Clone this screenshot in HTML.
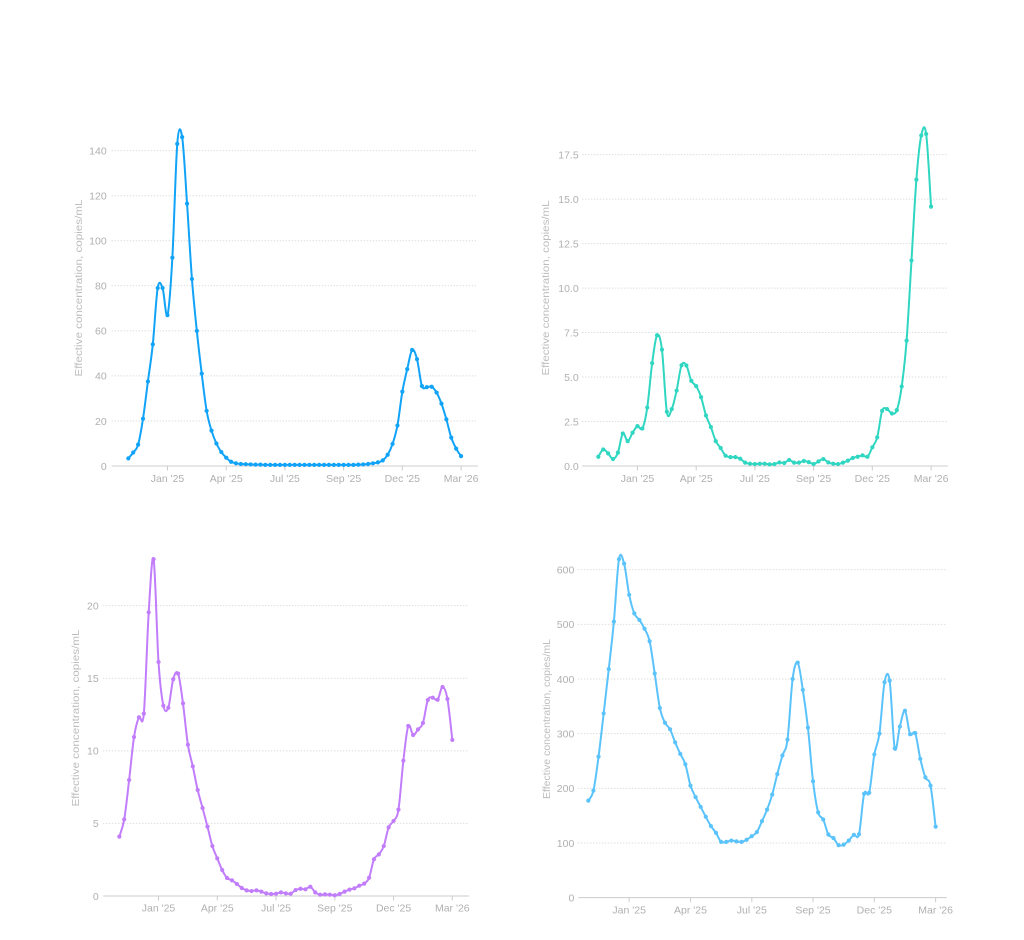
<!DOCTYPE html>
<html>
<head>
<meta charset="utf-8">
<style>
  html, body { margin: 0; padding: 0; background: #ffffff; }
  svg { display: block; }
  .lbl { font-family: "Liberation Sans", sans-serif; font-size: 10.5px; fill: #b0b0b0; }
  .ttl { font-family: "Liberation Sans", sans-serif; font-size: 10px; fill: #bdbdbd; }
  .grid { stroke: #cfcfcf; stroke-width: 1; stroke-dasharray: 1 2; fill: none; }
  .axis { stroke: #cccccc; stroke-width: 1; fill: none; }
  .s { fill: none; stroke-width: 2; stroke-linejoin: round; stroke-linecap: round; }
</style>
</head>
<body>
<svg id="chart" width="1024" height="940" viewBox="0 0 1024 940" xmlns="http://www.w3.org/2000/svg">
  <rect x="0" y="0" width="1024" height="940" fill="#ffffff"/>

  <!-- ============ CHART 1 (top-left) ============ -->
  <g>
    <line class="grid" x1="111.7" y1="420.95" x2="477.7" y2="420.95"/>
    <line class="grid" x1="111.7" y1="375.9" x2="477.7" y2="375.9"/>
    <line class="grid" x1="111.7" y1="330.85" x2="477.7" y2="330.85"/>
    <line class="grid" x1="111.7" y1="285.8" x2="477.7" y2="285.8"/>
    <line class="grid" x1="111.7" y1="240.75" x2="477.7" y2="240.75"/>
    <line class="grid" x1="111.7" y1="195.7" x2="477.7" y2="195.7"/>
    <line class="grid" x1="111.7" y1="150.65" x2="477.7" y2="150.65"/>
    <line class="axis" x1="111.7" y1="466" x2="477.7" y2="466"/>
    <line class="axis" x1="167.5" y1="466" x2="167.5" y2="470.5"/>
    <line class="axis" x1="226.2" y1="466" x2="226.2" y2="470.5"/>
    <line class="axis" x1="284.9" y1="466" x2="284.9" y2="470.5"/>
    <line class="axis" x1="343.6" y1="466" x2="343.6" y2="470.5"/>
    <line class="axis" x1="402.3" y1="466" x2="402.3" y2="470.5"/>
    <line class="axis" x1="461.1" y1="466" x2="461.1" y2="470.5"/>
    <text class="lbl" text-anchor="end" x="106.7" y="469.8">0</text>
    <text class="lbl" text-anchor="end" x="106.7" y="424.75">20</text>
    <text class="lbl" text-anchor="end" x="106.7" y="379.7">40</text>
    <text class="lbl" text-anchor="end" x="106.7" y="334.65">60</text>
    <text class="lbl" text-anchor="end" x="106.7" y="289.6">80</text>
    <text class="lbl" text-anchor="end" x="106.7" y="244.55">100</text>
    <text class="lbl" text-anchor="end" x="106.7" y="199.5">120</text>
    <text class="lbl" text-anchor="end" x="106.7" y="154.45">140</text>
    <text class="lbl" text-anchor="middle" x="167.5" y="481.8">Jan '25</text>
    <text class="lbl" text-anchor="middle" x="226.2" y="481.8">Apr '25</text>
    <text class="lbl" text-anchor="middle" x="284.9" y="481.8">Jul '25</text>
    <text class="lbl" text-anchor="middle" x="343.6" y="481.8">Sep '25</text>
    <text class="lbl" text-anchor="middle" x="402.3" y="481.8">Dec '25</text>
    <text class="lbl" text-anchor="middle" x="461.1" y="481.8">Mar '26</text>
    <text class="ttl" text-anchor="middle" transform="translate(81.8,288) rotate(-90)" textLength="177" lengthAdjust="spacingAndGlyphs">Effective concentration, copies/mL</text>
    <polyline class="s" stroke="#11a3f7" vector-effect="non-scaling-stroke" transform="matrix(4.893 0 0 -2.2524 128.33 466)" points="0,3.4 1,6 2,9.5 3,21 4,37.5 5,54 6,79 7,79 8,67 9,92.5 10,143 11,146 12,116.5 13,83 14,60 15,41 16,24.5 17,15.7 18,10 19,6.2 20,3.7 21,1.9 22,1.2 23,0.9 24,0.8 25,0.7 26,0.6 27,0.6 28,0.5 29,0.5 30,0.5 31,0.5 32,0.5 33,0.5 34,0.5 35,0.5 36,0.5 37,0.5 38,0.5 39,0.5 40,0.5 41,0.5 42,0.5 43,0.5 44,0.5 45,0.5 46,0.5 47,0.6 48,0.7 49,0.9 50,1.2 51,1.6 52,2.5 53,5 54,9.8 55,18 56,33 57,43 58,51.5 59,47.4 60,35.5 61,35 62,35.2 63,32.6 64,27.7 65,20.7 66,12.6 67,7.7 68,4.4"/>
  </g>

  <!-- ============ CHART 2 (top-right) ============ -->
  <g>
    <line class="grid" x1="582.3" y1="421.52" x2="947.7" y2="421.52"/>
    <line class="grid" x1="582.3" y1="377.04" x2="947.7" y2="377.04"/>
    <line class="grid" x1="582.3" y1="332.56" x2="947.7" y2="332.56"/>
    <line class="grid" x1="582.3" y1="288.08" x2="947.7" y2="288.08"/>
    <line class="grid" x1="582.3" y1="243.6" x2="947.7" y2="243.6"/>
    <line class="grid" x1="582.3" y1="199.12" x2="947.7" y2="199.12"/>
    <line class="grid" x1="582.3" y1="154.64" x2="947.7" y2="154.64"/>
    <line class="axis" x1="582.3" y1="466" x2="947.7" y2="466"/>
    <line class="axis" x1="637.5" y1="466" x2="637.5" y2="470.5"/>
    <line class="axis" x1="696.2" y1="466" x2="696.2" y2="470.5"/>
    <line class="axis" x1="754.9" y1="466" x2="754.9" y2="470.5"/>
    <line class="axis" x1="813.6" y1="466" x2="813.6" y2="470.5"/>
    <line class="axis" x1="872.3" y1="466" x2="872.3" y2="470.5"/>
    <line class="axis" x1="931.1" y1="466" x2="931.1" y2="470.5"/>
    <text class="lbl" text-anchor="end" x="578.7" y="469.8">0.0</text>
    <text class="lbl" text-anchor="end" x="578.7" y="425.32">2.5</text>
    <text class="lbl" text-anchor="end" x="578.7" y="380.84">5.0</text>
    <text class="lbl" text-anchor="end" x="578.7" y="336.36">7.5</text>
    <text class="lbl" text-anchor="end" x="578.7" y="291.88">10.0</text>
    <text class="lbl" text-anchor="end" x="578.7" y="247.4">12.5</text>
    <text class="lbl" text-anchor="end" x="578.7" y="202.92">15.0</text>
    <text class="lbl" text-anchor="end" x="578.7" y="158.44">17.5</text>
    <text class="lbl" text-anchor="middle" x="637.5" y="481.8">Jan '25</text>
    <text class="lbl" text-anchor="middle" x="696.2" y="481.8">Apr '25</text>
    <text class="lbl" text-anchor="middle" x="754.9" y="481.8">Jul '25</text>
    <text class="lbl" text-anchor="middle" x="813.6" y="481.8">Sep '25</text>
    <text class="lbl" text-anchor="middle" x="872.3" y="481.8">Dec '25</text>
    <text class="lbl" text-anchor="middle" x="931.1" y="481.8">Mar '26</text>
    <text class="ttl" text-anchor="middle" transform="translate(549.2,288) rotate(-90)" textLength="175" lengthAdjust="spacingAndGlyphs">Effective concentration, copies/mL</text>
    <polyline class="s" stroke="#2fd6c1" vector-effect="non-scaling-stroke" transform="matrix(4.893 0 0 -17.79 598.33 466)" points="0,0.52 1,0.93 2,0.71 3,0.39 4,0.75 5,1.83 6,1.4 7,1.87 8,2.24 9,2.11 10,3.29 11,5.78 12,7.35 13,6.54 14,3.05 15,3.2 16,4.24 17,5.66 18,5.65 19,4.79 20,4.49 21,3.87 22,2.84 23,2.19 24,1.4 25,1.01 26,0.58 27,0.5 28,0.5 29,0.41 30,0.19 31,0.13 32,0.11 33,0.13 34,0.13 35,0.09 36,0.11 37,0.2 38,0.17 39,0.34 40,0.19 41,0.19 42,0.28 43,0.22 44,0.11 45,0.26 46,0.39 47,0.2 48,0.13 49,0.11 50,0.19 51,0.3 52,0.45 53,0.52 54,0.6 55,0.52 56,1.05 57,1.61 58,3.1 59,3.2 60,2.95 61,3.14 62,4.47 63,7.05 64,11.55 65,16.1 66,18.58 67,18.66 68,14.58"/>
  </g>

  <!-- ============ CHART 3 (bottom-left) ============ -->
  <g>
    <line class="grid" x1="103.3" y1="823.42" x2="469" y2="823.42"/>
    <line class="grid" x1="103.3" y1="750.84" x2="469" y2="750.84"/>
    <line class="grid" x1="103.3" y1="678.26" x2="469" y2="678.26"/>
    <line class="grid" x1="103.3" y1="605.68" x2="469" y2="605.68"/>
    <line class="axis" x1="103.3" y1="896" x2="469" y2="896"/>
    <line class="axis" x1="158.5" y1="896" x2="158.5" y2="900.5"/>
    <line class="axis" x1="217.3" y1="896" x2="217.3" y2="900.5"/>
    <line class="axis" x1="276" y1="896" x2="276" y2="900.5"/>
    <line class="axis" x1="334.8" y1="896" x2="334.8" y2="900.5"/>
    <line class="axis" x1="393.6" y1="896" x2="393.6" y2="900.5"/>
    <line class="axis" x1="452.3" y1="896" x2="452.3" y2="900.5"/>
    <text class="lbl" text-anchor="end" x="98.7" y="899.8">0</text>
    <text class="lbl" text-anchor="end" x="98.7" y="827.22">5</text>
    <text class="lbl" text-anchor="end" x="98.7" y="754.64">10</text>
    <text class="lbl" text-anchor="end" x="98.7" y="682.06">15</text>
    <text class="lbl" text-anchor="end" x="98.7" y="609.48">20</text>
    <text class="lbl" text-anchor="middle" x="158.5" y="911.6">Jan '25</text>
    <text class="lbl" text-anchor="middle" x="217.3" y="911.6">Apr '25</text>
    <text class="lbl" text-anchor="middle" x="276" y="911.6">Jul '25</text>
    <text class="lbl" text-anchor="middle" x="334.8" y="911.6">Sep '25</text>
    <text class="lbl" text-anchor="middle" x="393.6" y="911.6">Dec '25</text>
    <text class="lbl" text-anchor="middle" x="452.3" y="911.6">Mar '26</text>
    <text class="ttl" text-anchor="middle" transform="translate(79,718) rotate(-90)" textLength="177" lengthAdjust="spacingAndGlyphs">Effective concentration, copies/mL</text>
    <polyline class="s" stroke="#c17dfb" vector-effect="non-scaling-stroke" transform="matrix(4.897 0 0 -14.517 119.33 896)" points="0,4.09 1,5.28 2,7.99 3,10.95 4,12.31 5,12.56 6,19.54 7,23.2 8,16.12 9,13.11 10,12.97 11,14.93 12,15.32 13,13.27 14,10.42 15,8.93 16,7.3 17,6.06 18,4.78 19,3.44 20,2.59 21,1.79 22,1.24 23,1.08 24,0.83 25,0.55 26,0.39 27,0.34 28,0.39 29,0.3 30,0.18 31,0.14 32,0.16 33,0.25 34,0.18 35,0.16 36,0.41 37,0.5 38,0.46 39,0.64 40,0.25 41,0.09 42,0.11 43,0.09 44,0.05 45,0.14 46,0.3 47,0.44 48,0.53 49,0.71 50,0.85 51,1.26 52,2.53 53,2.87 54,3.44 55,4.73 56,5.17 57,5.95 58,9.32 59,11.71 60,11.09 61,11.48 62,11.92 63,13.5 64,13.66 65,13.52 66,14.4 67,13.57 68,10.75"/>
  </g>

  <!-- ============ CHART 4 (bottom-right) ============ -->
  <g>
    <line class="grid" x1="578.3" y1="843" x2="946.7" y2="843"/>
    <line class="grid" x1="578.3" y1="788.33" x2="946.7" y2="788.33"/>
    <line class="grid" x1="578.3" y1="733.66" x2="946.7" y2="733.66"/>
    <line class="grid" x1="578.3" y1="679" x2="946.7" y2="679"/>
    <line class="grid" x1="578.3" y1="624.33" x2="946.7" y2="624.33"/>
    <line class="grid" x1="578.3" y1="569.67" x2="946.7" y2="569.67"/>
    <line class="axis" x1="578.3" y1="897.67" x2="946.7" y2="897.67"/>
    <line class="axis" x1="629.2" y1="897.67" x2="629.2" y2="902.2"/>
    <line class="axis" x1="690.5" y1="897.67" x2="690.5" y2="902.2"/>
    <line class="axis" x1="751.8" y1="897.67" x2="751.8" y2="902.2"/>
    <line class="axis" x1="813" y1="897.67" x2="813" y2="902.2"/>
    <line class="axis" x1="874.3" y1="897.67" x2="874.3" y2="902.2"/>
    <line class="axis" x1="935.6" y1="897.67" x2="935.6" y2="902.2"/>
    <text class="lbl" text-anchor="end" x="574.3" y="901.47">0</text>
    <text class="lbl" text-anchor="end" x="574.3" y="846.8">100</text>
    <text class="lbl" text-anchor="end" x="574.3" y="792.13">200</text>
    <text class="lbl" text-anchor="end" x="574.3" y="737.46">300</text>
    <text class="lbl" text-anchor="end" x="574.3" y="682.8">400</text>
    <text class="lbl" text-anchor="end" x="574.3" y="628.13">500</text>
    <text class="lbl" text-anchor="end" x="574.3" y="573.47">600</text>
    <text class="lbl" text-anchor="middle" x="629.2" y="913.3">Jan '25</text>
    <text class="lbl" text-anchor="middle" x="690.5" y="913.3">Apr '25</text>
    <text class="lbl" text-anchor="middle" x="751.8" y="913.3">Jul '25</text>
    <text class="lbl" text-anchor="middle" x="813" y="913.3">Sep '25</text>
    <text class="lbl" text-anchor="middle" x="874.3" y="913.3">Dec '25</text>
    <text class="lbl" text-anchor="middle" x="935.6" y="913.3">Mar '26</text>
    <text class="ttl" text-anchor="middle" transform="translate(550,719) rotate(-90)" textLength="160" lengthAdjust="spacingAndGlyphs">Effective concentration, copies/mL</text>
    <polyline class="s" stroke="#5bc3fb" vector-effect="non-scaling-stroke" transform="matrix(5.107 0 0 -0.5467 588.33 897.67)" points="0,177.5 1,196 2,258 3,337 4,418 5,505 6,619 7,611 8,554 9,520 10,508 11,492 12,469 13,410 14,347 15,320 16,308 17,284 18,263 19,244 20,205 21,184 22,166 23,148 24,131 25,118.5 26,102 27,102 28,104.5 29,103 30,102 31,106 32,112.5 33,120 34,140 35,161 36,188.5 37,226 38,260 39,289 40,400 41,430 42,380 43,311 44,213 45,156 46,143 47,115.5 48,109 49,96 50,97 51,104.5 52,115 53,116 54,190 55,192 56,262 57,300 58,394 59,397 60,273 61,313 62,342 63,299 64,301 65,254 66,220 67,205 68,130"/>
  </g>
</svg>
<script>
(function () {
  var NS = "http://www.w3.org/2000/svg";
  var svg = document.getElementById("chart");
  var polys = Array.prototype.slice.call(svg.querySelectorAll("polyline.s"));
  function curve(p) {
    var d = "M" + p[0][0].toFixed(2) + "," + p[0][1].toFixed(2);
    for (var i = 0; i < p.length - 1; i++) {
      var p0 = i > 0 ? p[i - 1] : p[i], p1 = p[i], p2 = p[i + 1], p3 = i + 2 < p.length ? p[i + 2] : p[i + 1];
      var c1 = [p1[0] + (p2[0] - p0[0]) / 6, p1[1] + (p2[1] - p0[1]) / 6];
      var c2 = [p2[0] - (p3[0] - p1[0]) / 6, p2[1] - (p3[1] - p1[1]) / 6];
      d += "C" + c1[0].toFixed(2) + "," + c1[1].toFixed(2) + " " + c2[0].toFixed(2) + "," + c2[1].toFixed(2) + " " + p2[0].toFixed(2) + "," + p2[1].toFixed(2);
    }
    return d;
  }
  polys.forEach(function (pl) {
    var m = pl.transform.baseVal.consolidate().matrix;
    var color = pl.getAttribute("stroke");
    var pts = [];
    var raw = pl.getAttribute("points").trim().split(/\s+/);
    raw.forEach(function (s) {
      var xy = s.split(",");
      var x = parseFloat(xy[0]), y = parseFloat(xy[1]);
      pts.push([m.a * x + m.c * y + m.e, m.b * x + m.d * y + m.f]);
    });
    var path = document.createElementNS(NS, "path");
    path.setAttribute("d", curve(pts));
    path.setAttribute("fill", "none");
    path.setAttribute("stroke", color);
    path.setAttribute("stroke-width", "2");
    path.setAttribute("stroke-linejoin", "round");
    path.setAttribute("stroke-linecap", "round");
    var g = document.createElementNS(NS, "g");
    g.setAttribute("fill", color);
    pts.forEach(function (q) {
      var c = document.createElementNS(NS, "circle");
      c.setAttribute("cx", q[0].toFixed(2));
      c.setAttribute("cy", q[1].toFixed(2));
      c.setAttribute("r", "2.1");
      g.appendChild(c);
    });
    pl.parentNode.insertBefore(path, pl);
    pl.parentNode.insertBefore(g, pl);
    pl.parentNode.removeChild(pl);
  });
})();
</script>
</body>
</html>
